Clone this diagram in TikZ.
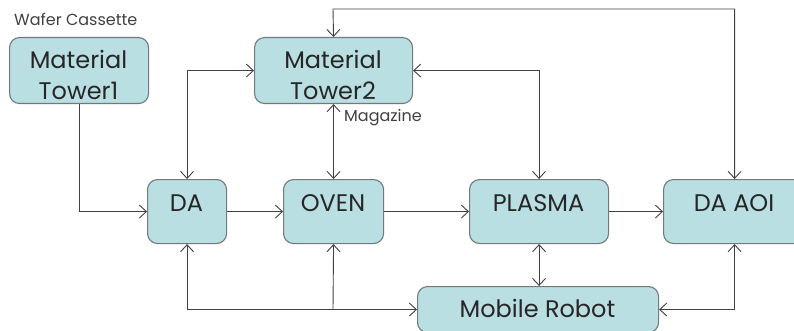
\documentclass[tikz,border=0pt]{standalone}
\usepackage{fontspec}
\setmainfont{Poppins}
\usetikzlibrary{arrows.meta}
\definecolor{boxfill}{HTML}{BADFE2}
\definecolor{boxline}{HTML}{707A7C}
\definecolor{wire}{HTML}{404040}
\tikzset{
  box/.style={draw=boxline, line width=1.1pt, fill=boxfill, rounded corners=10pt,
    inner sep=0pt, anchor=north west},
  lbl/.style={inner sep=0pt, anchor=base, font=\fontsize{24}{30}\selectfont, text=black!85},
  note/.style={inner sep=0pt, font=\fontsize{16}{18}\selectfont, text=black!75},
  wire/.style={draw=wire, line width=0.9pt},
  tip/.style={-{Straight Barb[length=7pt,width=13pt,line width=0.9pt]}},
  tips/.style={{Straight Barb[length=7pt,width=13pt,line width=0.9pt]}-{Straight Barb[length=7pt,width=13pt,line width=0.9pt]}}
}
\begin{document}
\begin{tikzpicture}[x=1pt,y=-1pt]
\useasboundingbox (0,0) rectangle (794,331);
\clip (0,0) rectangle (794,331);

% process boxes
\node[box, minimum width=139pt, minimum height=66pt] (mt1) at (9,37) {};
\node[box, minimum width=158pt, minimum height=66pt] (mt2) at (254,37) {};
\node[box, minimum width=79pt, minimum height=64pt] (da) at (147,179) {};
\node[box, minimum width=100pt, minimum height=64pt] (oven) at (283,179) {};
\node[box, minimum width=139pt, minimum height=64pt] (plasma) at (469,179) {};
\node[box, minimum width=142pt, minimum height=64pt] (aoi) at (663,179) {};
\node[box, minimum width=241pt, minimum height=46pt] (mr) at (417,286) {};

% box labels
\node[lbl] (t-mt1a) at (78.5,69) {Material};
\node[lbl] (t-mt1b) at (78.5,100) {Tower1};
\node[lbl] (t-mt2a) at (333,69) {Material};
\node[lbl] (t-mt2b) at (333,100) {Tower2};
\node[lbl] (t-da) at (186.5,211) {DA};
\node[lbl] (t-oven) at (333,211) {OVEN};
\node[lbl] (t-plasma) at (538.5,211) {PLASMA};
\node[lbl] (t-aoi) at (734,211) {DA AOI};
\node[lbl] (t-mr) at (537.5,317) {Mobile Robot};

% annotations
\node[note, anchor=west] (wafer) at (14,19) {Wafer Cassette};
\node[note, anchor=west] (mag) at (344,118) {Magazine};

% junction points of the routed connectors
\coordinate (topbus) at (333,9);
\coordinate (botbus) at (333,309);

% main flow
\draw[wire, tip] (mt1.south) |- (da.west);
\draw[wire, tip] (da.east) -- (oven.west);
\draw[wire, tip] (oven.east) -- (plasma.west);
\draw[wire, tip] (plasma.east) -- (aoi.west);

% links to Material Tower2
\draw[wire, tips] (da.north) |- (mt2.west);
\draw[wire, tips] (mt2.south) -- (oven.north);
\draw[wire, tips] (mt2.east) -| (plasma.north);
\draw[wire, tips] (mt2.north) -- (topbus) -| (aoi.north);

% links to the Mobile Robot
\draw[wire, tips] (da.south) |- (mr.west);
\draw[wire, tip] (botbus) -- (oven.south);
\draw[wire, tips] (plasma.south) -- (plasma.south |- mr.north);
\draw[wire, tips] (aoi.south) |- (mr.east);
\end{tikzpicture}
\end{document}
